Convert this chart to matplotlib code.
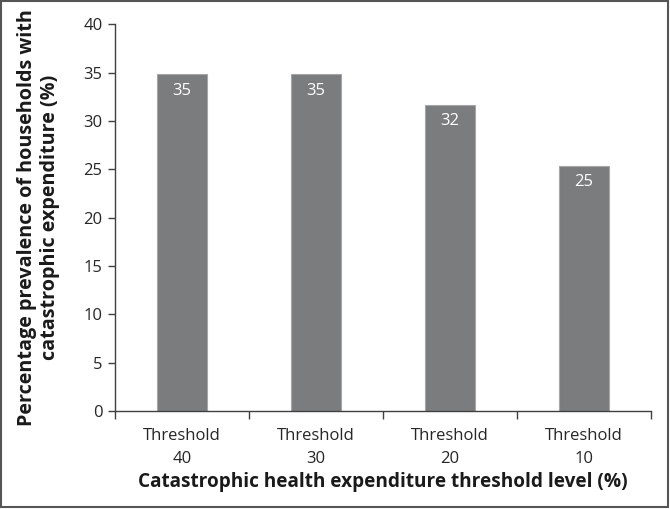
import matplotlib
matplotlib.use('Agg')
from matplotlib import pyplot as plt
from matplotlib.patches import Rectangle

# 데이터
categories = ['Threshold\n40', 'Threshold\n30', 'Threshold\n20', 'Threshold\n10']
values = [34.85, 34.85, 31.7, 25.37]
labels = ['35', '35', '32', '25']

plt.rcParams['font.family'] = ['Open Sans', 'DejaVu Sans']

fig = plt.figure(figsize=(6.7, 5.09), dpi=100)
ax = fig.add_axes([0.1716, 0.1925, 0.80, 0.7595])

x = range(len(categories))
bars = ax.bar(x, values, width=0.38, color='#7b7c7e', edgecolor='#a6a6a6', linewidth=0.8)

for b, t in zip(bars, labels):
    ax.annotate(t, (b.get_x() + b.get_width() / 2, b.get_height()),
                xytext=(0, -12), textcoords='offset points',
                ha='center', va='center', color='white', fontsize=12)

ax.set_xlim(-0.5, len(categories) - 0.5)
ax.set_ylim(0, 40)
ax.set_yticks(range(0, 41, 5))
ax.set_xticks([i - 0.5 for i in range(len(categories) + 1)])
ax.set_xticklabels([])
ax.set_xticks(list(x), minor=True)
ax.set_xticklabels(categories, minor=True, fontsize=12, color='#262626', linespacing=1.6)
ax.tick_params(axis='x', which='minor', length=0, pad=12)
ax.tick_params(axis='x', which='major', length=6, color='#404040', width=1)
ax.tick_params(axis='y', length=5, color='#404040', width=1, labelsize=12, labelcolor='#262626', pad=4)

for s in ['top', 'right']:
    ax.spines[s].set_visible(False)
for s in ['left', 'bottom']:
    ax.spines[s].set_color('#404040')
    ax.spines[s].set_linewidth(1)

ax.set_xlabel('Catastrophic health expenditure threshold level (%)', fontsize=13.7,
              fontweight='bold', color='#1a1a1a', labelpad=4)
ax.set_ylabel('Percentage prevalence of households with\ncatastrophic expenditure (%)',
              fontsize=14.2, fontweight='bold', color='#1a1a1a', labelpad=17, linespacing=1.2)

# 테두리
fig.patches.append(Rectangle((0.001, 0.003), 0.996, 0.995, transform=fig.transFigure,
                             fill=False, edgecolor='#555555', linewidth=1.5))

plt.savefig('out.png', dpi=100)
